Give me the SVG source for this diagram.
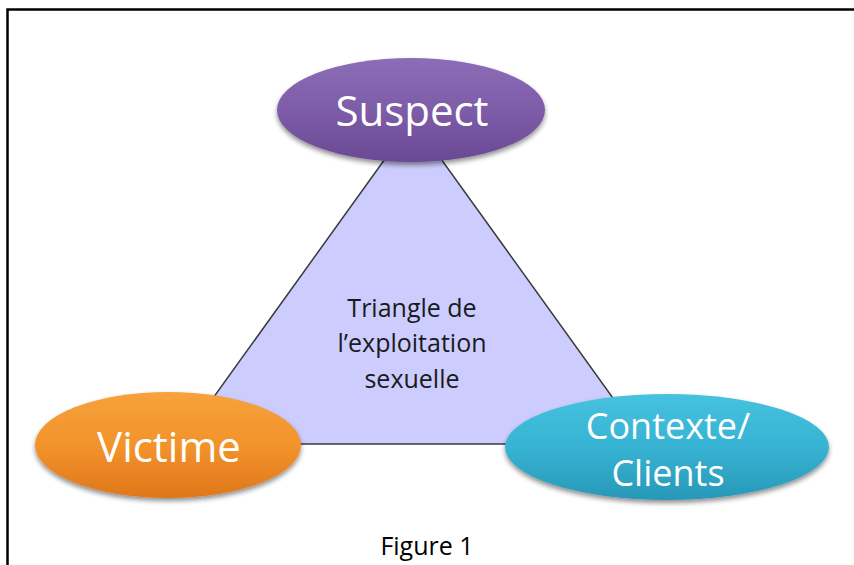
<svg xmlns="http://www.w3.org/2000/svg" width="854" height="565" viewBox="0 0 854 565">
  <defs>
    <linearGradient id="gPurple" x1="0" y1="0" x2="0" y2="1">
      <stop offset="0" stop-color="#8c6db8"/>
      <stop offset="0.5" stop-color="#7d5ca8"/>
      <stop offset="1" stop-color="#6a4994"/>
    </linearGradient>
    <linearGradient id="gOrange" x1="0" y1="0" x2="0" y2="1">
      <stop offset="0" stop-color="#f6a23c"/>
      <stop offset="0.5" stop-color="#f3932c"/>
      <stop offset="1" stop-color="#de771a"/>
    </linearGradient>
    <linearGradient id="gTeal" x1="0" y1="0" x2="0" y2="1">
      <stop offset="0" stop-color="#46c2df"/>
      <stop offset="0.5" stop-color="#37b3d3"/>
      <stop offset="1" stop-color="#2898b8"/>
    </linearGradient>
    <filter id="shadow" x="-10%" y="-20%" width="120%" height="150%">
      <feGaussianBlur in="SourceAlpha" stdDeviation="2.5"/>
      <feOffset dx="0" dy="3" result="b"/>
      <feComponentTransfer><feFuncA type="linear" slope="0.45"/></feComponentTransfer>
      <feMerge><feMergeNode/><feMergeNode in="SourceGraphic"/></feMerge>
    </filter>
  </defs>
  <style>
    .node-label { font-family: "Open Sans", "Liberation Sans", sans-serif; fill: #ffffff; text-anchor: middle; }
    .tri-label { font-family: "Open Sans", "Liberation Sans", sans-serif; fill: #1a1a1a; font-size: 25px; text-anchor: middle; }
    .caption { font-family: "Open Sans", "Liberation Sans", sans-serif; fill: #000000; font-size: 25px; text-anchor: middle; }
  </style>

  <rect width="854" height="565" fill="#ffffff"/>
  <!-- page frame -->
  <path d="M7.5,580 V9.5 H870" fill="none" stroke="#000000" stroke-width="2.5"/>

  <!-- central triangle -->
  <g id="connectors">
    <polygon points="413,120 180,444 646,444" fill="#ccccfe" stroke="#3a3a3a" stroke-width="1.5" stroke-linejoin="miter"/>
    <text class="tri-label" x="412" y="317">Triangle de</text>
    <text class="tri-label" x="412" y="352">l’exploitation</text>
    <text class="tri-label" x="412" y="388">sexuelle</text>
  </g>

  <g id="suspect">
    <ellipse cx="411" cy="110" rx="134" ry="52" fill="url(#gPurple)" filter="url(#shadow)"/>
    <text class="node-label" x="412" y="126" font-size="42">Suspect</text>
  </g>

  <g id="victime">
    <ellipse cx="168" cy="445" rx="133" ry="53" fill="url(#gOrange)" filter="url(#shadow)"/>
    <text class="node-label" x="169" y="462" font-size="42">Victime</text>
  </g>

  <g id="contexte-clients">
    <ellipse cx="667" cy="447" rx="162" ry="53" fill="url(#gTeal)" filter="url(#shadow)"/>
    <text class="node-label" x="668" y="439" font-size="36">Contexte/</text>
    <text class="node-label" x="668" y="486" font-size="36">Clients</text>
  </g>

  <text class="caption" x="427" y="555">Figure 1</text>
</svg>
